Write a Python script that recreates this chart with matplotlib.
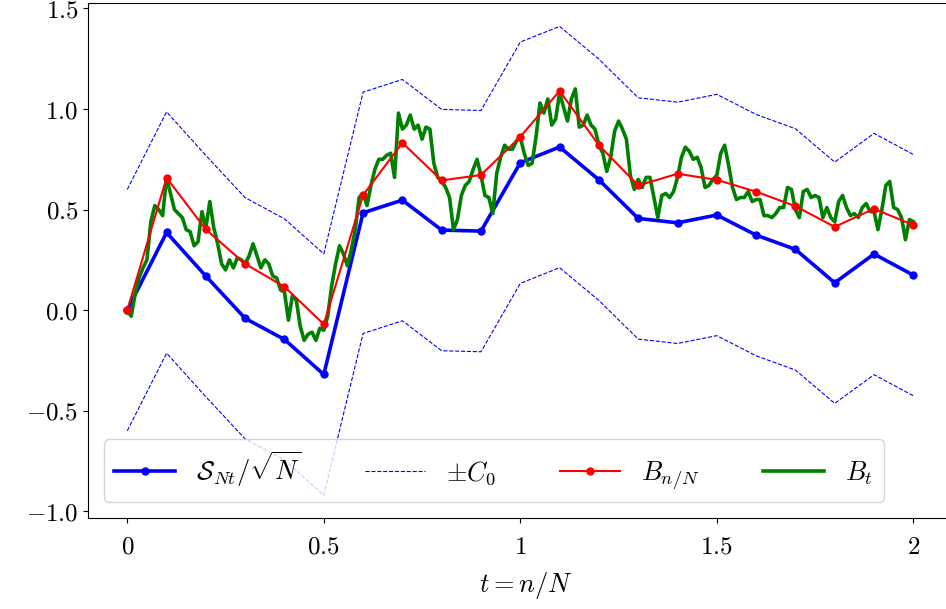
import numpy as np
from matplotlib import pyplot as plt
from matplotlib.ticker import FuncFormatter

plt.rcParams['mathtext.fontset'] = 'cm'
plt.rcParams['font.family'] = 'serif'
plt.rcParams['font.serif'] = ['DejaVu Serif']

# coarse grid n/N, N = 10
t_coarse = np.linspace(0, 2, 21)
S_scaled = [0.00, 0.386, 0.169, -0.041, -0.146, -0.32, 0.484, 0.547, 0.398, 0.393, 0.733,
            0.811, 0.648, 0.456, 0.434, 0.473, 0.373, 0.302, 0.136, 0.279, 0.174]
B_coarse = [0.00, 0.658, 0.401, 0.23, 0.116, -0.07, 0.572, 0.832, 0.645, 0.672, 0.862,
            1.09, 0.82, 0.62, 0.678, 0.648, 0.589, 0.517, 0.414, 0.504, 0.423]
C0 = 0.6

# fine path B_t, step 0.01
t_fine = np.linspace(0, 2, 201)
B_fine = [
    0.00, -0.03, 0.08, 0.16, 0.21, 0.25, 0.44, 0.52, 0.50, 0.47,
    0.66, 0.58, 0.50, 0.48, 0.46, 0.40, 0.39, 0.32, 0.34, 0.49,
    0.41, 0.54, 0.41, 0.33, 0.23, 0.20, 0.25, 0.21, 0.26, 0.25,
    0.23, 0.27, 0.33, 0.27, 0.21, 0.25, 0.23, 0.17, 0.16, 0.10,
    0.09, -0.05, 0.07, 0.05, -0.08, -0.15, -0.12, -0.11, -0.15, -0.09,
    -0.10, -0.03, 0.12, 0.23, 0.32, 0.28, 0.22, 0.30, 0.40, 0.56,
    0.58, 0.52, 0.62, 0.70, 0.75, 0.75, 0.77, 0.78, 0.66, 0.98,
    0.90, 0.92, 0.97, 0.90, 0.92, 0.85, 0.91, 0.90, 0.73, 0.66,
    0.64, 0.61, 0.56, 0.40, 0.45, 0.57, 0.62, 0.64, 0.70, 0.75,
    0.67, 0.57, 0.56, 0.48, 0.68, 0.76, 0.82, 0.80, 0.80, 0.84,
    0.86, 0.78, 0.72, 0.73, 0.86, 1.03, 0.98, 1.05, 0.92, 0.95,
    1.08, 1.01, 0.94, 1.05, 1.10, 0.91, 0.92, 0.97, 0.92, 0.90,
    0.82, 0.78, 0.69, 0.76, 0.89, 0.94, 0.90, 0.85, 0.67, 0.60,
    0.65, 0.61, 0.66, 0.66, 0.56, 0.46, 0.57, 0.58, 0.56, 0.59,
    0.66, 0.76, 0.81, 0.79, 0.75, 0.76, 0.71, 0.61, 0.62, 0.65,
    0.67, 0.78, 0.82, 0.72, 0.61, 0.55, 0.56, 0.56, 0.59, 0.54,
    0.55, 0.55, 0.47, 0.47, 0.46, 0.48, 0.51, 0.51, 0.61, 0.60,
    0.50, 0.46, 0.59, 0.60, 0.56, 0.57, 0.56, 0.46, 0.51, 0.46,
    0.44, 0.54, 0.57, 0.51, 0.47, 0.48, 0.46, 0.51, 0.53, 0.49,
    0.49, 0.40, 0.50, 0.62, 0.64, 0.51, 0.50, 0.46, 0.35, 0.45,
    0.44,
]

S = np.array(S_scaled)

fig = plt.figure(figsize=(9.46, 6.09), dpi=100)
ax = fig.add_axes([0.093, 0.149, 0.925, 0.846])

ax.plot(t_coarse, S, 'b.-', lw=2.6, ms=10, label=r'$\mathcal{S}_{Nt}/\sqrt{N}$', zorder=2)
ax.plot(t_coarse, S + C0, 'b--', lw=0.8, label=r'$\pm C_0$', zorder=2)
ax.plot(t_coarse, S - C0, 'b--', lw=0.8, zorder=2)
ax.plot(t_coarse, B_coarse, 'r.-', lw=1.5, ms=10, label=r'$B_{n/N}$', zorder=3)
ax.plot(t_fine, B_fine, color='green', lw=2.6, label=r'$B_t$', zorder=2.5)

ax.set_xlim(-0.1, 2.1 * 0.925 / 0.914 + 0.1 * (0.925 / 0.914 - 1))
ax.set_ylim(-1.035, 1.527)
ax.set_xticks([0, 0.5, 1, 1.5, 2])
ax.set_yticks([-1.0, -0.5, 0.0, 0.5, 1.0, 1.5])
ax.xaxis.set_major_formatter(FuncFormatter(lambda v, p: f'${v:g}$'))
ax.yaxis.set_major_formatter(FuncFormatter(lambda v, p: f'${v:.1f}$'))
ax.tick_params(labelsize=18)
ax.tick_params(axis='x', pad=9)
ax.set_xlabel(r'$t = n/N$', fontsize=19, labelpad=8)

ax.legend(loc='lower left', ncol=4, fontsize=19, handlelength=2.3,
          columnspacing=2.4, borderaxespad=0.6)

fig.savefig('out.png', dpi=100)
